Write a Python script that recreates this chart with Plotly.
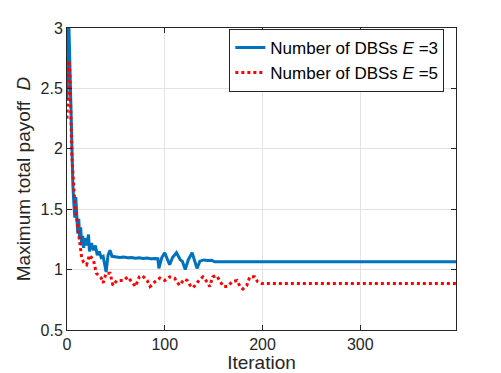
import plotly.graph_objects as go

# Series E=3 (keypoints: iteration, value)
iter_e3 = [0, 1, 2, 3, 4, 5, 6, 7, 8, 9, 10, 11, 12, 13, 14, 15, 16, 17, 18, 20, 22, 23, 25, 27, 29,
           31, 33, 35, 37, 40, 42, 44, 46, 50, 54, 58, 62, 66, 70, 74, 78, 82, 86, 90, 93, 94, 97,
           100, 103, 105, 108, 112, 116, 118, 121, 124, 128, 130, 133, 136, 140, 144, 148, 151, 398]
val_e3 = [2.4, 3.0, 3.0, 2.6, 2.2, 1.9, 1.7, 1.55, 1.43, 1.6, 1.45, 1.3, 1.42, 1.25, 1.35, 1.2, 1.28, 1.18, 1.26, 1.2, 1.29, 1.15, 1.22, 1.16, 1.2,
          1.12, 1.15, 1.1, 1.11, 0.98, 1.12, 1.16, 1.11, 1.105, 1.1, 1.105, 1.098, 1.1, 1.095, 1.098, 1.092, 1.095, 1.09, 1.092, 1.09, 1.01, 1.1,
          1.14, 1.08, 1.04, 1.1, 1.14, 1.08, 1.07, 1.0, 1.08, 1.14, 1.08, 1.01, 1.07, 1.08, 1.075, 1.078, 1.065, 1.065]

# Series E=5
iter_e5 = [0, 1, 2, 3, 4, 5, 6, 8, 10, 12, 14, 15, 17, 20, 23, 25, 27, 30, 33, 35, 37, 40, 44, 47, 51, 54, 58,
           62, 66, 70, 74, 77, 82, 85, 90, 95, 100, 105, 110, 115, 120, 123, 126, 129, 133, 136, 139, 143, 146,
           149, 153, 156, 160, 164, 169, 174, 177, 180, 184, 187, 192, 195, 199, 398]
val_e5 = [2.25, 2.45, 2.73, 2.6, 2.2, 1.95, 1.8, 1.55, 1.42, 1.3, 1.18, 1.1, 1.06, 1.04, 1.12, 1.1, 1.08, 0.97, 0.95, 0.93, 0.89, 0.97, 0.97, 0.87, 0.91, 0.91, 0.91,
          0.94, 0.90, 0.86, 0.94, 0.95, 0.91, 0.86, 0.90, 0.93, 0.91, 0.94, 0.93, 0.87, 0.92, 0.91, 0.87, 0.85, 0.89, 0.92, 0.94, 0.90, 0.86,
          0.94, 0.95, 0.91, 0.86, 0.86, 0.90, 0.91, 0.86, 0.84, 0.87, 0.94, 0.94, 0.90, 0.885, 0.885]

x_ticks = [0, 100, 200, 300]
y_ticks = [0.5, 1, 1.5, 2, 2.5, 3]

FONT = "Liberation Sans, Arial, sans-serif"
AX = "#262626"

fig = go.Figure()
fig.add_trace(go.Scatter(x=iter_e3, y=val_e3, mode="lines",
                         line=dict(color="#0072BD", width=3),
                         name="Number of DBSs <i>E</i> =3"))
fig.add_trace(go.Scatter(x=iter_e5, y=val_e5, mode="lines",
                         line=dict(color="#FF0000", width=3, dash="dot"),
                         name="Number of DBSs <i>E</i> =5"))

axis_common = dict(showline=True, linecolor=AX, linewidth=1, mirror="ticks",
                   ticks="inside", ticklen=5, tickcolor=AX, tickwidth=1,
                   showgrid=True, gridcolor="#e3e3e3", gridwidth=1, zeroline=False,
                   automargin=False,
                   tickfont=dict(family=FONT, size=16, color=AX))

fig.update_xaxes(range=[0, 398], tickvals=x_ticks, ticktext=[str(v) for v in x_ticks],
                 title=dict(text="Iteration", font=dict(family=FONT, size=19, color=AX), standoff=0),
                 **axis_common)
fig.update_yaxes(range=[0.5, 3], tickvals=y_ticks, ticktext=["0.5", "1", "1.5", "2", "2.5", "3"],
                 title=dict(text="Maximum total payoff  <i>D</i>", font=dict(family=FONT, size=19, color=AX), standoff=4),
                 **axis_common)

# The page body has an 8px default margin, so the figure is sized to fit the window
fig.update_layout(
    width=493, height=365,
    margin=dict(l=59, r=45, t=20, b=43),
    paper_bgcolor="white", plot_bgcolor="white",
    showlegend=True,
    legend=dict(x=0.97, y=0.997, xanchor="right", yanchor="top",
                bgcolor="white", bordercolor=AX, borderwidth=1,
                font=dict(family=FONT, size=17, color="black"),
                tracegroupgap=0, itemwidth=30),
)

fig.write_html("out.html")
